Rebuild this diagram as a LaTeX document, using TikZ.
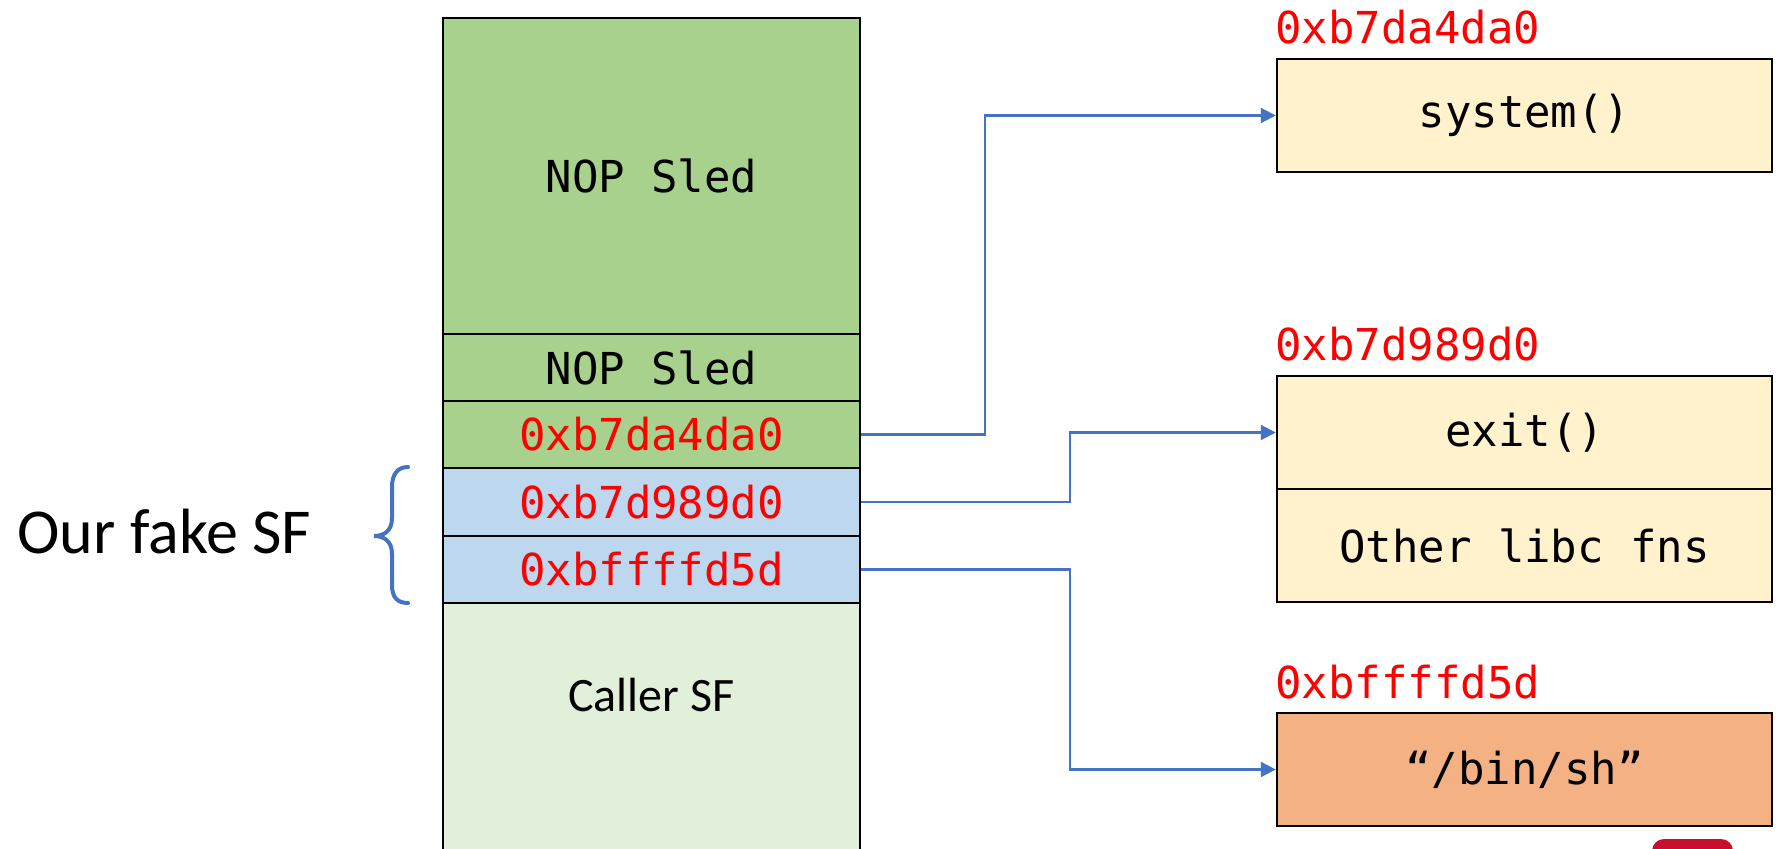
\documentclass[tikz,border=0pt]{standalone}
\usepackage{fontspec}
\setmainfont{Carlito}
\newfontfamily\monofam{DejaVu Sans Mono}
\usetikzlibrary{arrows.meta}
\definecolor{nopgreen}{HTML}{A9D18E}
\definecolor{sfblue}{HTML}{BDD7EE}
\definecolor{callergreen}{HTML}{E2EFDA}
\definecolor{libcyellow}{HTML}{FFF2CC}
\definecolor{binorange}{HTML}{F4B183}
\definecolor{addrred}{HTML}{FF0000}
\definecolor{linkblue}{HTML}{4472C4}
\definecolor{logored}{HTML}{C8102E}
\tikzset{
  monotext/.style={font=\monofam\fontsize{22}{26}\selectfont},
  cell/.style={draw=black, line width=1.25pt, minimum width=208.5pt, inner sep=0pt, monotext},
  libbox/.style={draw=black, line width=1.25pt, minimum width=247.5pt, minimum height=56.5pt, inner sep=0pt, monotext},
  addr/.style={text=addrred},
  addrlabel/.style={monotext, text=addrred, inner sep=0pt, anchor=base west},
  conn/.style={draw=linkblue, line width=1.1pt, -{Triangle[length=7.5pt,width=7.5pt]}},
}
\begin{document}
\begin{tikzpicture}[x=0.5pt,y=-0.5pt]
\clip (0,0) rectangle (1782,849);
\fill[white] (0,0) rectangle (1782,849);
% stack
\node[cell, fill=nopgreen, minimum height=158pt] (r1) at (651.5,176) {NOP Sled};
\node[cell, fill=nopgreen, minimum height=33.5pt] (r2) at (651.5,367.5) {NOP Sled};
\node[cell, fill=nopgreen, minimum height=33.5pt, addr] (r3) at (651.5,434.5) {0xb7da4da0};
\node[cell, fill=sfblue, minimum height=34pt, addr] (r4) at (651.5,502) {0xb7d989d0};
\node[cell, fill=sfblue, minimum height=33.5pt, addr] (r5) at (651.5,569.5) {0xbffffd5d};
\node[cell, fill=callergreen, minimum height=158.5pt] (r6) at (651.5,761.5) {};
\node[font=\fontsize{24}{28}\selectfont, inner sep=0pt, anchor=base] (callertxt) at (651.5,711) {Caller SF};
% brace and label
\draw[linkblue, line width=2pt, line cap=round]
  (408,467) .. controls (397,467) and (392,475) .. (392,487) -- (392,518)
  .. controls (392,530) and (385,536) .. (374,536)
  .. controls (385,536) and (392,542) .. (392,554) -- (392,585)
  .. controls (392,597) and (397,603) .. (408,603);
\node[font=\fontsize{32}{38}\selectfont, inner sep=0pt, anchor=base west] (fake) at (17,553) {Our fake SF};
% libc side
\node[addrlabel] (lab1) at (1275,44) {0xb7da4da0};
\node[libbox, fill=libcyellow] (sys) at (1524.5,115.5) {system()};
\node[addrlabel] (lab2) at (1275,361) {0xb7d989d0};
\node[libbox, fill=libcyellow] (exitf) at (1524.5,432.5) {exit()};
\node[libbox, fill=libcyellow] (other) at (1524.5,545.5) {Other libc fns};
\node[addrlabel] (lab3) at (1275,698) {0xbffffd5d};
\node[libbox, fill=binorange] (bin) at (1524.5,769.5) {“/bin/sh”};
% connectors
\draw[conn] (r3.east) -- ++(124,0) |- (sys.west);
\draw[conn] (r4.east) -- ++(209,0) |- (exitf.west);
\draw[conn] (r5.east) -- ++(209,0) |- (bin.west);
% logo fragment
\fill[logored, rounded corners=6pt] (1652,839) rectangle (1733,900);
\end{tikzpicture}
\end{document}
